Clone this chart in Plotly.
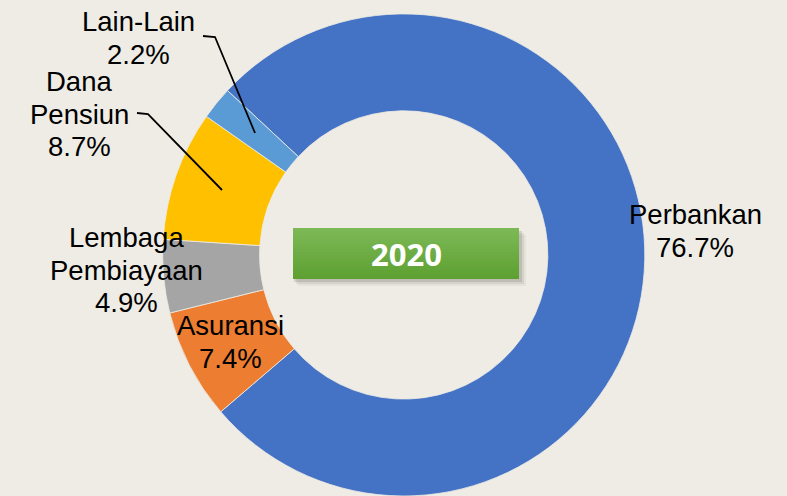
import plotly.graph_objects as go

# ---------------------------------------------------------------------------
# Data
# ---------------------------------------------------------------------------
SECTORS = ["Perbankan", "Asuransi", "Lembaga Pembiayaan", "Dana Pensiun", "Lain-Lain"]
SHARES = [76.7, 7.4, 4.9, 8.7, 2.2]
YEAR = "2020"

COLORS = ["#4472C4", "#ED7D31", "#A5A5A5", "#FFC000", "#5B9BD5"]
BG = "#EEECE4"

W, H = 787, 496
LINE_GAP = 32.5

# label block centres in pixels (x, y from top)
LABEL_POS = [(695, 231), (230, 342), (126, 270), (79, 114), (138, 38)]


def px(x, y):
    return x / W, 1 - y / H


fig = go.Figure()

fig.add_trace(go.Pie(
    labels=SECTORS,
    values=SHARES,
    sort=False,
    direction="clockwise",
    rotation=313,
    hole=0.598,
    marker=dict(colors=COLORS, line=dict(color=BG, width=0.8)),
    textinfo="none",
    hovertemplate="%{label}: %{value:.1f}%<extra></extra>",
    domain=dict(x=[0.196, 0.830], y=[0.0, 0.972]),
    showlegend=False,
))

annotations = []
for name, val, (lx, ly) in zip(SECTORS, SHARES, LABEL_POS):
    lines = name.split(" ") + [f"{val:.1f}%"]
    n = len(lines)
    for i, line in enumerate(lines):
        ax, ay = px(lx, ly + (i - (n - 1) / 2) * LINE_GAP)
        annotations.append(dict(
            x=ax, y=ay, xref="paper", yref="paper",
            text=line, showarrow=False,
            xanchor="center", yanchor="middle",
            font=dict(family="Liberation Sans, Arial, sans-serif", size=27.5, color="#000000"),
        ))

# year badge
bx0, bx1, by0, by1 = 293, 519, 228, 279
shapes = []
# soft shadow
for off, alpha in [(7, 0.05), (5, 0.09), (3, 0.14)]:
    x0, y0 = px(bx0 + off - 2, by0 + off)
    x1, y1 = px(bx1 + off, by1 + off)
    shapes.append(dict(type="rect", xref="paper", yref="paper",
                       x0=x0, x1=x1, y0=y0, y1=y1,
                       fillcolor=f"rgba(60,50,40,{alpha})", line=dict(width=0), layer="above"))
# gradient strips
top_c = (124, 185, 86)
bot_c = (94, 160, 50)
n = 17
for i in range(n):
    t = i / (n - 1)
    c = tuple(round(a + (b - a) * t) for a, b in zip(top_c, bot_c))
    ya = by0 + (by1 - by0) * i / n
    yb = by0 + (by1 - by0) * (i + 1) / n
    x0, y0 = px(bx0, ya)
    x1, y1 = px(bx1, yb)
    shapes.append(dict(type="rect", xref="paper", yref="paper",
                       x0=x0, x1=x1, y0=y0, y1=y1,
                       fillcolor="rgb(%d,%d,%d)" % c, line=dict(width=0), layer="above"))

cx, cy = px((bx0 + bx1) / 2, (by0 + by1) / 2 + 1)
annotations.append(dict(
    x=cx, y=cy, xref="paper", yref="paper", text=f"<b>{YEAR}</b>",
    showarrow=False, xanchor="center", yanchor="middle",
    font=dict(family="Open Sans, sans-serif", size=31, color="#FFFFFF"),
))


# leader lines
def leader(points):
    pts = [px(x, y) for x, y in points]
    path = "M " + " L ".join(f"{x},{y}" for x, y in pts)
    return dict(type="path", xref="paper", yref="paper", path=path,
                line=dict(color="#000000", width=1.8), layer="above")


shapes.append(leader([(203, 36), (215, 37), (255, 133)]))
shapes.append(leader([(137, 113), (148, 114), (222, 190)]))

fig.update_layout(
    width=W, height=H,
    paper_bgcolor=BG,
    plot_bgcolor=BG,
    margin=dict(l=0, r=0, t=0, b=0),
    annotations=annotations,
    shapes=shapes,
)

fig.write_html("out.html", config={"displayModeBar": False},
               post_script="document.body.style.margin='0';")
